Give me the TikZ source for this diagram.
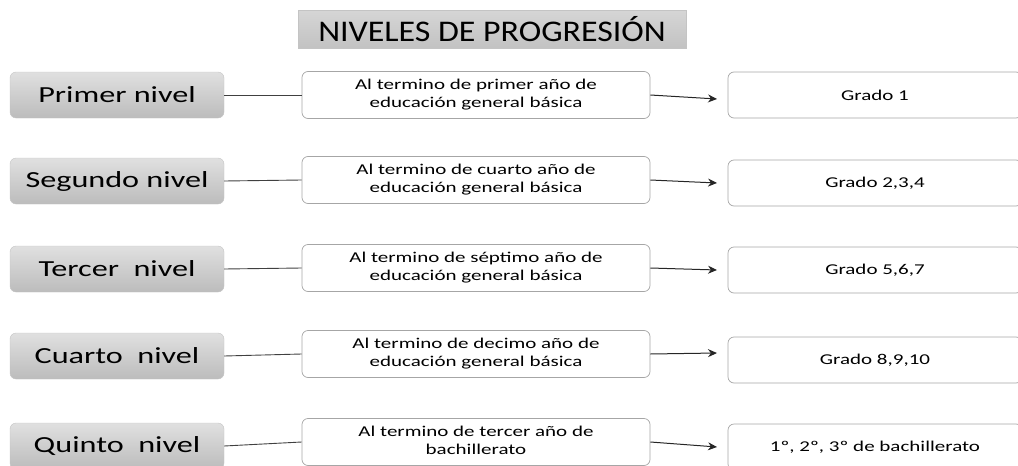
\documentclass[tikz,border=0pt]{standalone}
\usepackage{fontspec}
\setmainfont{Carlito}
\usetikzlibrary{arrows.meta,shadings}
\newcommand{\sxt}[1]{\scalebox{1.4}[1]{#1}}
\newcommand{\twol}[2]{\sxt{\begin{tabular}{@{}c@{}}#1\\[-1pt]#2\end{tabular}}}
\definecolor{lvtop}{HTML}{E0E0E0}
\definecolor{lvbot}{HTML}{BCBCBC}
\definecolor{lvline}{HTML}{C4C4C4}
\definecolor{bord}{HTML}{A6A6A6}
\definecolor{ttop}{HTML}{D6D6D6}
\definecolor{tbot}{HTML}{C2C2C2}
\tikzset{
  lvbox/.style={draw=lvline, rounded corners=6pt, top color=lvtop, bottom color=lvbot,
    minimum width=214pt, minimum height=46pt, inner sep=0pt, font=\fontsize{23}{26}\selectfont},
  midbox/.style={draw=bord, rounded corners=6pt, fill=white, line width=0.7pt,
    minimum width=348pt, minimum height=47pt, inner sep=0pt, font=\fontsize{15}{19}\selectfont},
  gradebox/.style={draw=bord, rounded corners=6pt, fill=white, line width=0.7pt,
    minimum width=294pt, minimum height=46pt, inner sep=0pt, font=\fontsize{15}{19}\selectfont},
  titlebox/.style={draw=lvline, top color=ttop, bottom color=tbot,
    minimum width=388pt, minimum height=38pt, inner sep=0pt, font=\fontsize{30}{32}\selectfont},
  link/.style={draw=black!75, line width=0.9pt},
  arr/.style={draw=black!85, line width=1pt, -{Stealth[length=9pt,width=8pt]}}
}
\begin{document}
\begin{tikzpicture}[x=1pt,y=-1pt]
\useasboundingbox (0,0) rectangle (1018,466);
\clip (0,0) rectangle (1018,466);
\node[titlebox] (title) at (492,29) {\scalebox{1.13}[1]{NIVELES DE PROGRESIÓN}};
% row 1
\node[lvbox] (l1) at (117,95) {\sxt{Primer nivel}};
\node[midbox] (m1) at (476,95) {\twol{Al termino de primer año de}{educación general básica}};
\node[gradebox] (g1) at (875,95) {\sxt{Grado 1}};
\coordinate (a1) at (717,99);
% row 2
\node[lvbox] (l2) at (117,181) {\sxt{Segundo nivel}};
\node[midbox] (m2) at (476,180) {\twol{Al termino de cuarto año de}{educación general básica}};
\node[gradebox] (g2) at (875,183) {\sxt{Grado 2,3,4}};
\coordinate (a2) at (717,183);
% row 3
\node[lvbox] (l3) at (117,269) {\sxt{Tercer\ \ nivel}};
\node[midbox] (m3) at (476,268) {\twol{Al termino de séptimo año de}{educación general básica}};
\node[gradebox] (g3) at (875,270) {\sxt{Grado 5,6,7}};
\coordinate (a3) at (717,270);
% row 4
\node[lvbox] (l4) at (117,356) {\sxt{Cuarto\ \ nivel}};
\node[midbox] (m4) at (476,354) {\twol{Al termino de decimo año de}{educación general básica}};
\node[gradebox] (g4) at (875,360) {\sxt{Grado 8,9,10}};
\coordinate (a4) at (717,353);
% row 5
\node[lvbox] (l5) at (117,446) {\sxt{Quinto\ \ nivel}};
\node[midbox] (m5) at (476,442) {\twol{Al termino de tercer año de}{bachillerato}};
\node[gradebox] (g5) at (875,447) {\sxt{1º, 2º, 3º de bachillerato}};
\coordinate (a5) at (717,447);
% connectors
\foreach \i in {1,...,5}{
  \draw[link] (l\i.east) -- (m\i.west);
}
\draw[arr] (m1.east) -- (a1);
\draw[arr] (m2.east) -- (a2);
\draw[arr] (m3.east) -- (a3);
\draw[arr] (m4.east) -- (a4);
\draw[arr] (m5.east) -- (a5);
\end{tikzpicture}
\end{document}
